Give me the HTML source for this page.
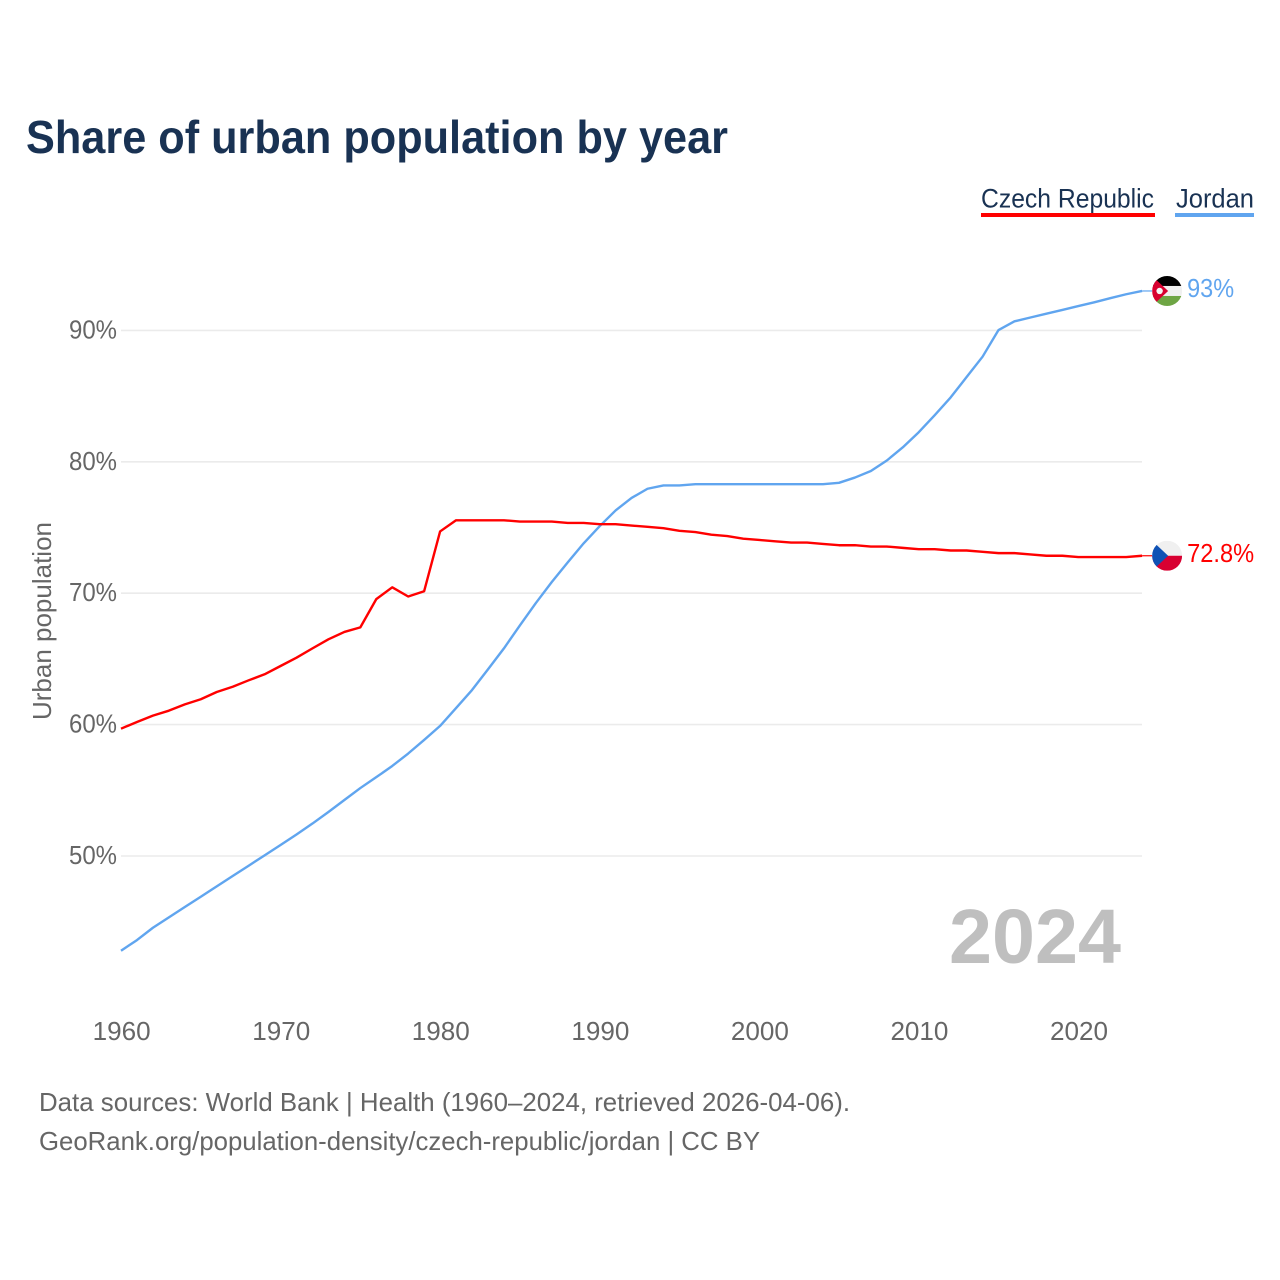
<!DOCTYPE html>
<html lang="en">
<head>
<meta charset="utf-8">
<title>Share of urban population by year</title>
<style>
html,body{margin:0;padding:0;background:#fff}
svg{display:block}
text{font-family:"Liberation Sans",sans-serif}
</style>
</head>
<body>
<svg id="chart" width="1280" height="1280" viewBox="0 0 1280 1280" xmlns="http://www.w3.org/2000/svg">
  <defs>
    <clipPath id="flag-clip-jo"><circle cx="0" cy="0" r="15"/></clipPath>
    <clipPath id="flag-clip-cz"><circle cx="0" cy="0" r="15"/></clipPath>
  </defs>
  <rect width="1280" height="1280" fill="#fff"/>
  <text x="26" y="153" font-size="46" font-weight="700" fill="#193253" textLength="702" lengthAdjust="spacingAndGlyphs">Share of urban population by year</text>
  <g>
    <text x="981" y="207.5" font-size="27" fill="#193253" textLength="173" lengthAdjust="spacingAndGlyphs">Czech Republic</text>
    <rect x="981" y="213" width="174" height="4" fill="#ff0000"/>
    <text x="1176" y="207.5" font-size="27" fill="#193253" textLength="78" lengthAdjust="spacingAndGlyphs">Jordan</text>
    <rect x="1175" y="213" width="79" height="4" fill="#60a5ef"/>
  </g>
  <g id="grid"></g>
  <g id="y-ticks"></g>
  <g id="x-ticks"></g>
  <text transform="translate(51,720) rotate(-90)" x="0" y="0" font-size="26" fill="#666" textLength="198" lengthAdjust="spacingAndGlyphs">Urban population</text>
  <text x="949" y="963" font-size="77" font-weight="700" fill="#bfbfbf" textLength="172" lengthAdjust="spacingAndGlyphs">2024</text>
  <g id="series"></g>
  <g id="end-markers"></g>
  <text x="39" y="1111" font-size="26" fill="#666" textLength="811" lengthAdjust="spacingAndGlyphs">Data sources: World Bank | Health (1960–2024, retrieved 2026-04-06).</text>
  <text x="39" y="1150" font-size="26" fill="#666" textLength="721" lengthAdjust="spacingAndGlyphs">GeoRank.org/population-density/czech-republic/jordan | CC BY</text>
</svg>
<script>
const startYear = 1960;
const czechValues = [59.69,60.2,60.68,61.06,61.54,61.93,62.48,62.88,63.37,63.83,64.46,65.09,65.8,66.49,67.05,67.4,69.55,70.45,69.75,70.15,74.7,75.55,75.55,75.55,75.55,75.45,75.45,75.45,75.35,75.35,75.25,75.25,75.15,75.05,74.95,74.75,74.65,74.45,74.35,74.15,74.05,73.95,73.85,73.85,73.75,73.65,73.65,73.55,73.55,73.45,73.35,73.35,73.25,73.25,73.15,73.05,73.05,72.95,72.85,72.85,72.75,72.75,72.75,72.75,72.85];
const jordanValues = [42.79,43.6,44.54,45.33,46.12,46.9,47.69,48.48,49.26,50.05,50.84,51.64,52.47,53.35,54.26,55.17,56,56.85,57.8,58.83,59.9,61.26,62.63,64.2,65.8,67.55,69.25,70.85,72.35,73.8,75.1,76.3,77.25,77.95,78.2,78.2,78.3,78.3,78.3,78.3,78.3,78.3,78.3,78.3,78.3,78.4,78.8,79.3,80.1,81.1,82.25,83.55,84.9,86.45,88,90.03,90.69,90.98,91.27,91.56,91.85,92.14,92.45,92.75,93];
const yTicks = [50,60,70,80,90];
const xTicks = [1960,1970,1980,1990,2000,2010,2020];
const czechEndLabel = "72.8%";
const jordanEndLabel = "93%";

const NS = "http://www.w3.org/2000/svg";
function xScale(year){ return 121 + (year - 1960) * 15.955; }
function yScale(v){ return 724.6 - (v - 60) * 13.14; }
function mk(tag, attrs, parent){
  const el = document.createElementNS(NS, tag);
  for (const k in attrs) el.setAttribute(k, attrs[k]);
  parent.appendChild(el);
  return el;
}
const grid = document.getElementById('grid');
const yT = document.getElementById('y-ticks');
const xT = document.getElementById('x-ticks');
const series = document.getElementById('series');
const markers = document.getElementById('end-markers');

yTicks.forEach(function(v){
  const line = mk('line', {x1:121, x2:1142, y1:yScale(v), y2:yScale(v), stroke:'#ebebeb', 'stroke-width':1.6}, grid);
  
  
  const t = mk('text', {x:117, y:yScale(v)+8, 'font-size':26, fill:'#666', 'text-anchor':'end', textLength:48, lengthAdjust:'spacingAndGlyphs'}, yT);
  t.textContent = v + '%';
  
  
});
xTicks.forEach(function(y){
  const t = mk('text', {x:xScale(y)+0.7, y:1040, 'font-size':26, fill:'#666', 'text-anchor':'middle', textLength:58, lengthAdjust:'spacingAndGlyphs'}, xT);
  t.textContent = y;
  
  
});
function pathFor(values){
  return values.map(function(v,i){
    return (i ? 'L' : 'M') + xScale(startYear + i).toFixed(2) + ' ' + yScale(v).toFixed(2);
  }).join(' ');
}
const jordanLine = mk('path', {d:pathFor(jordanValues), fill:'none', stroke:'#60a5ef', 'stroke-width':2.4, 'stroke-linejoin':'round'}, series);


const czechLine = mk('path', {d:pathFor(czechValues), fill:'none', stroke:'#ff0000', 'stroke-width':2.4, 'stroke-linejoin':'round'}, series);



const lastYear = startYear + jordanValues.length - 1;
const endX = xScale(lastYear);

/* Jordan end marker */
const jy = yScale(jordanValues[jordanValues.length - 1]);
const jConn = mk('line', {x1:endX, x2:endX+10, y1:jy, y2:jy, stroke:'#60a5ef', 'stroke-width':1.2}, markers);


const jFlag = mk('g', {transform:'translate(' + (endX+25) + ',' + jy + ')', 'clip-path':'url(#flag-clip-jo)'}, markers);


mk('rect', {x:-15, y:-15, width:30, height:10, fill:'#000'}, jFlag);
mk('rect', {x:-15, y:-5, width:30, height:10, fill:'#f0f0f0'}, jFlag);
mk('rect', {x:-15, y:5, width:30, height:10, fill:'#6ea544'}, jFlag);
mk('polygon', {points:'-15,-15 1,0 -15,15', fill:'#d8002f'}, jFlag);
mk('circle', {cx:-7.5, cy:0, r:3.2, fill:'#f4f4f4'}, jFlag);
const jLabel = mk('text', {x:endX+45, y:jy+6, 'font-size':26, fill:'#60a5ef', textLength:47, lengthAdjust:'spacingAndGlyphs'}, markers);
jLabel.textContent = jordanEndLabel;



/* Czech end marker */
const cy = yScale(czechValues[czechValues.length - 1]);
const cConn = mk('line', {x1:endX, x2:endX+10, y1:cy, y2:cy, stroke:'#ff0000', 'stroke-width':1.2}, markers);


const cFlag = mk('g', {transform:'translate(' + (endX+25) + ',' + cy + ')', 'clip-path':'url(#flag-clip-cz)'}, markers);


mk('rect', {x:-15, y:-15, width:30, height:15, fill:'#f0f0f0'}, cFlag);
mk('rect', {x:-15, y:0, width:30, height:15, fill:'#d80031'}, cFlag);
mk('polygon', {points:'-15,-15 1,0 -15,15', fill:'#0f52b5'}, cFlag);
const cLabel = mk('text', {x:endX+45, y:cy+6, 'font-size':26, fill:'#ff0000', textLength:67, lengthAdjust:'spacingAndGlyphs'}, markers);
cLabel.textContent = czechEndLabel;


</script>
</body>
</html>
